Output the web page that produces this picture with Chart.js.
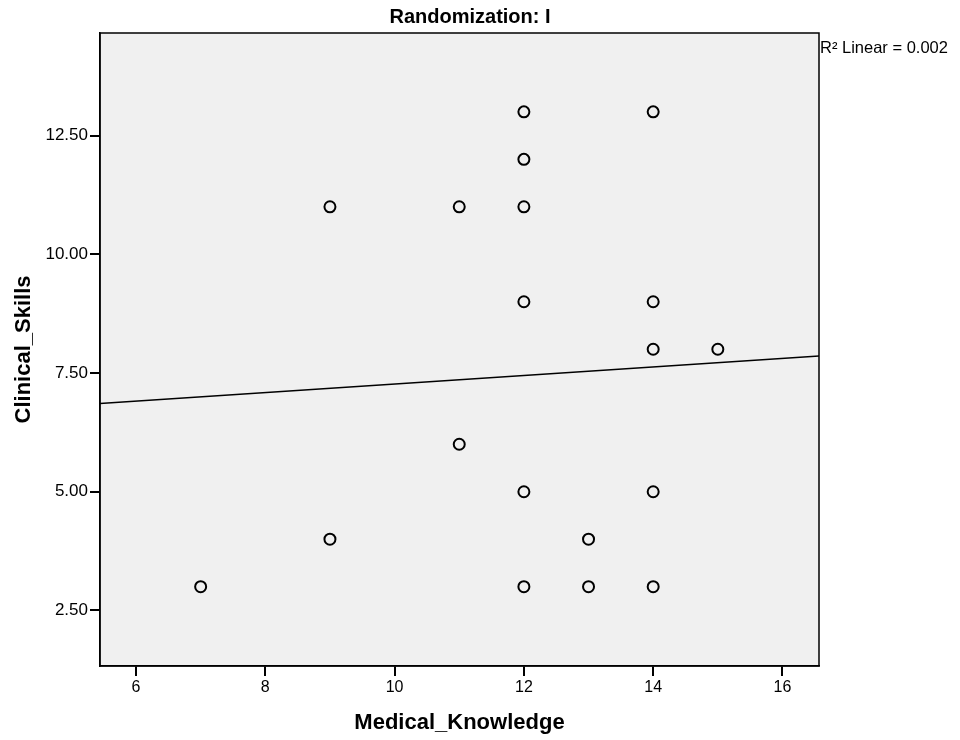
<!DOCTYPE html>
<html>
<head>
<meta charset="utf-8">
<script src="https://cdn.jsdelivr.net/npm/chart.js@4.4.1/dist/chart.umd.min.js"></script>
<style>
  html, body { margin: 0; padding: 0; background: #fff; }
</style>
</head>
<body>
<canvas id="scatter" width="960" height="740"></canvas>
<script>
// --- data ---
const knowledge = [12, 14, 12, 9, 11, 12, 12, 14, 14, 15, 11, 12, 14, 9, 13, 7, 12, 13, 14];
const skills    = [13, 13, 12, 11, 11, 11, 9, 9, 8, 8, 6, 5, 5, 4, 4, 3, 3, 3, 3];
const fitX = [5.44, 16.57];
const fitY = [6.86, 7.86];
const xTicks = [6, 8, 10, 12, 14, 16];
const yTicks = [2.5, 5, 7.5, 10, 12.5];
const chartTitle = 'Randomization: I';
const fitLabel = 'R\u00B2 Linear = 0.002';

const FONT = '"Liberation Sans", Arial, sans-serif';

// plot background, frame and the texts outside the axes
const framePlugin = {
  id: 'frame',
  beforeDraw(chart) {
    const { ctx, chartArea: a } = chart;
    ctx.save();
    ctx.fillStyle = '#f0f0f0';
    ctx.fillRect(a.left, a.top, a.right - a.left, a.bottom - a.top);
    ctx.restore();
  },
  afterDraw(chart) {
    const { ctx, chartArea: a } = chart;
    ctx.save();
    ctx.strokeStyle = '#000';
    ctx.lineWidth = 1.5;
    ctx.strokeRect(a.left, a.top, a.right - a.left, a.bottom - a.top);

    ctx.fillStyle = '#000';
    ctx.font = 'bold 20px ' + FONT;
    ctx.textAlign = 'center';
    ctx.textBaseline = 'alphabetic';
    ctx.fillText(chartTitle, 470, 23);

    ctx.font = '16.5px ' + FONT;
    ctx.textAlign = 'left';
    ctx.fillText(fitLabel, a.right + 1, 53);
    ctx.restore();
  }
};

const ctx = document.getElementById('scatter').getContext('2d');
new Chart(ctx, {
  type: 'scatter',
  data: {
    datasets: [
      {
        label: 'Linear fit',
        type: 'line',
        data: fitX.map((x, i) => ({ x: x, y: fitY[i] })),
        borderColor: '#000',
        borderWidth: 1.5,
        pointRadius: 0,
        fill: false,
        tension: 0
      },
      {
        label: 'Clinical_Skills',
        data: knowledge.map((x, i) => ({ x: x, y: skills[i] })),
        pointStyle: 'circle',
        pointRadius: 5.5,
        pointBorderWidth: 2,
        borderColor: '#000',
        backgroundColor: 'rgba(0,0,0,0)'
      }
    ]
  },
  options: {
    responsive: false,
    animation: false,
    events: [],
    layout: { padding: { top: 33, right: 141, bottom: 0, left: 0 } },
    plugins: {
      legend: { display: false },
      tooltip: { enabled: false }
    },
    scales: {
      x: {
        type: 'linear',
        min: 5.443,
        max: 16.565,
        afterFit: (s) => { s.height = 74; },
        afterBuildTicks: (s) => { s.ticks = xTicks.map(v => ({ value: v })); },
        border: { display: true, color: '#000', width: 1.5 },
        grid: { drawOnChartArea: false, drawTicks: true, tickLength: 10, color: '#000', lineWidth: 2 },
        ticks: { color: '#000', font: { family: FONT, size: 16 }, padding: 2, maxRotation: 0 },
        title: {
          display: true,
          text: 'Medical_Knowledge',
          color: '#000',
          font: { family: FONT, size: 22, weight: 'bold' },
          padding: { top: 0, bottom: 4 }
        }
      },
      y: {
        type: 'linear',
        min: 1.33,
        max: 14.66,
        afterFit: (s) => { s.width = 100; },
        afterBuildTicks: (s) => { s.ticks = yTicks.map(v => ({ value: v })); },
        border: { display: true, color: '#000', width: 1.5 },
        grid: { drawOnChartArea: false, drawTicks: true, tickLength: 10, color: '#000', lineWidth: 2 },
        ticks: {
          color: '#000',
          font: { family: FONT, size: 17 },
          padding: 2,
          callback: (v) => Number(v).toFixed(2)
        },
        title: {
          display: true,
          text: 'Clinical_Skills',
          color: '#000',
          font: { family: FONT, size: 22, weight: 'bold' },
          padding: { top: 11, bottom: 0 }
        }
      }
    }
  },
  plugins: [framePlugin]
});
</script>
</body>
</html>
